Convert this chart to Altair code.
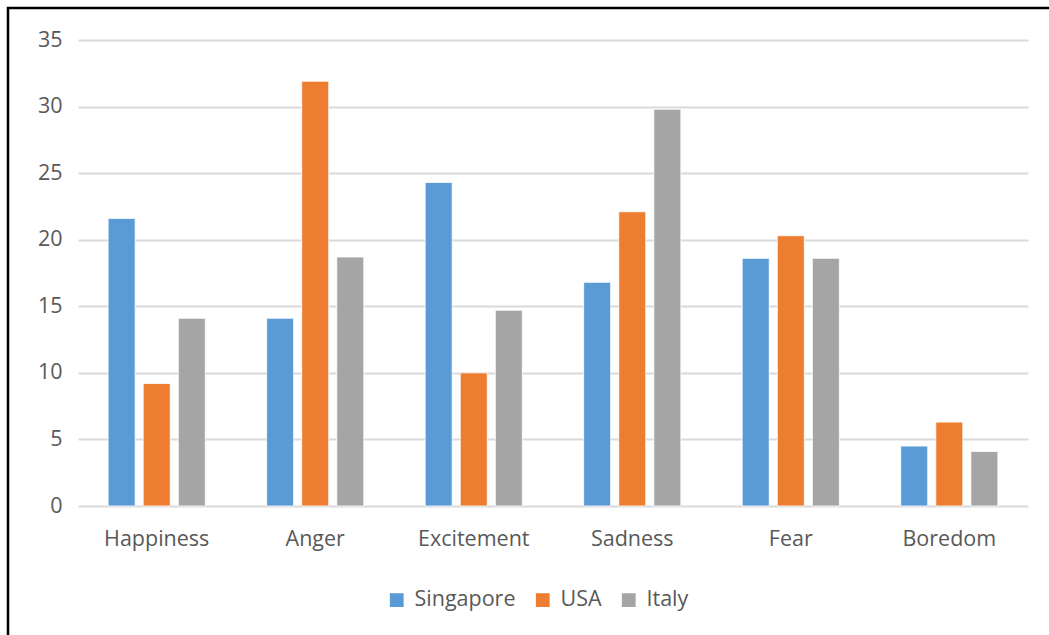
import altair as alt
import pandas as pd

emotions = ["Happiness", "Anger", "Excitement", "Sadness", "Fear", "Boredom"]
countries = ["Singapore", "USA", "Italy"]
singapore = [21.6, 14.1, 24.3, 16.8, 18.6, 4.5]
usa = [9.2, 31.9, 10.0, 22.1, 20.3, 6.3]
italy = [14.1, 18.7, 14.7, 29.8, 18.6, 4.1]
colors = ["#5B9BD5", "#ED7D31", "#A5A5A5"]
y_ticks = [0, 5, 10, 15, 20, 25, 30, 35]

rows = []
for c, vals in zip(countries, [singapore, usa, italy]):
    for e, v in zip(emotions, vals):
        rows.append({"Emotion": e, "Country": c, "Value": v})
df = pd.DataFrame(rows)

FONT = "Open Sans"
FS = 21.5

bars = alt.Chart(df).mark_bar(stroke="white", strokeWidth=0.8).encode(
    x=alt.X("Emotion:N", sort=emotions,
            scale=alt.Scale(paddingInner=0.387, paddingOuter=0.19),
            axis=alt.Axis(title=None, labelAngle=0, labelFontSize=FS, labelColor="#595959",
                          labelFont=FONT, ticks=False, domain=False, labelPadding=22,
                          grid=False)),
    xOffset=alt.XOffset("Country:N", sort=countries,
                        scale=alt.Scale(paddingInner=0.23, paddingOuter=0)),
    y=alt.Y("Value:Q",
            scale=alt.Scale(domain=[0, 35], nice=False),
            axis=alt.Axis(title=None, values=y_ticks, labelFontSize=FS, labelColor="#595959",
                          labelFont=FONT, ticks=False, domain=False, labelPadding=16,
                          grid=True, gridColor="#D9D9D9", gridWidth=2)),
    color=alt.Color("Country:N", sort=countries,
                    scale=alt.Scale(domain=countries, range=colors),
                    legend=alt.Legend(title=None, orient="none", direction="horizontal",
                                      legendX=308, legendY=549, symbolType="square",
                                      symbolSize=190, symbolStrokeWidth=0,
                                      labelFontSize=FS, labelColor="#595959", labelFont=FONT,
                                      labelOffset=7, columnPadding=16)),
)

frame = alt.Chart(pd.DataFrame({"a": [0]})).mark_rect(
    fill=None, stroke="black", strokeWidth=2.5, clip=False
).encode(
    x=alt.value(-70), x2=alt.value(1000), y=alt.value(-32), y2=alt.value(640)
)

chart = alt.layer(bars, frame).properties(
    width=950, height=466,
    autosize=alt.AutoSizeParams(type="none"),
    padding={"left": 78, "top": 40, "right": 21, "bottom": 129},
    background="white",
).configure_view(stroke=None)

chart.save("out.html", embed_options={"renderer": "svg", "actions": False})
